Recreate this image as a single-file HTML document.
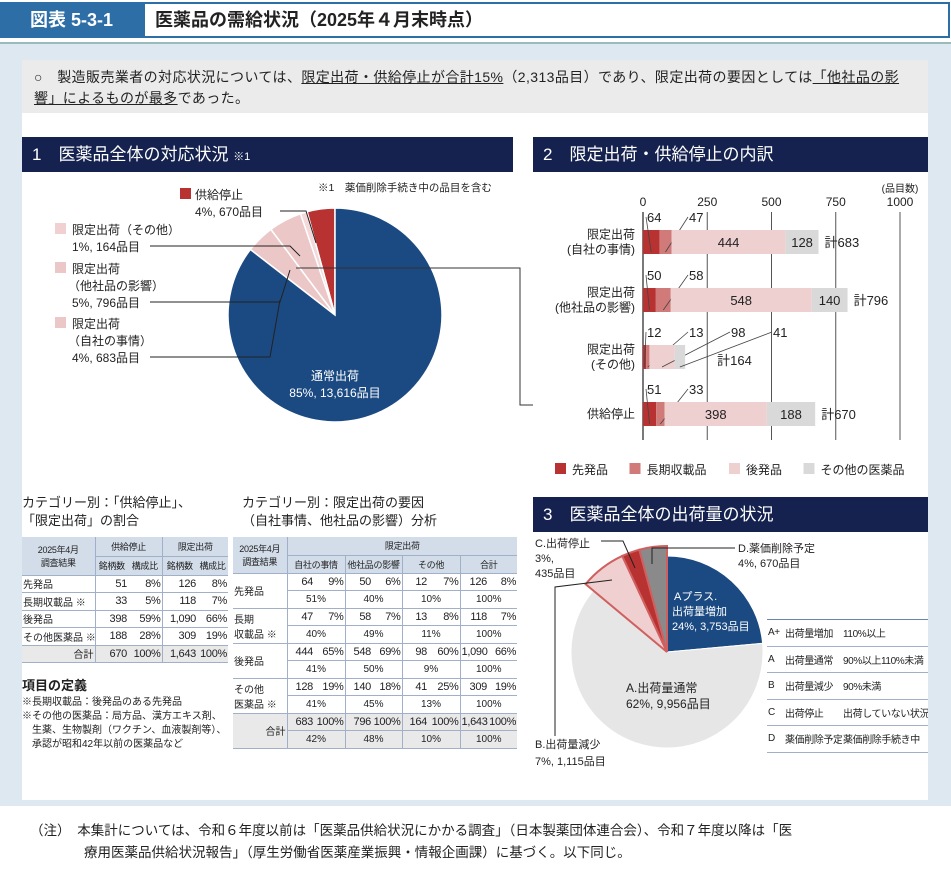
<!DOCTYPE html>
<html><head><meta charset="utf-8">
<style>
*{margin:0;padding:0;box-sizing:border-box}
body{width:951px;height:878px;position:relative;background:#fff;font-family:"Liberation Sans","Noto Sans CJK JP",sans-serif;color:#222;overflow:hidden}
.abs{position:absolute}
.hdr{background:#15224f;color:#fff;font-size:17px;line-height:35px;padding-left:10px}
table{border-collapse:collapse;position:absolute;font-size:10px;table-layout:fixed}
td{border-bottom:1px solid #9fb0c8;padding:0 1px;white-space:nowrap;overflow:hidden}
td.n{text-align:right;font-size:11px;letter-spacing:-0.3px}
td.c{text-align:center}
.h td{background:#d3dde9;text-align:center;font-size:9px;letter-spacing:-0.3px}
.tot td{background:#e9e9e9}
.vl{border-left:1px solid #9fb0c8}
</style></head><body>
<div class="abs" style="left:0;top:2px;width:143px;height:36px;background:#2e6ea6;color:#fff;font-size:18px;font-weight:bold;line-height:36px;text-align:center">図表 5-3-1</div>
<div class="abs" style="left:143px;top:2px;width:807px;height:36px;border:2px solid #2e6ea6;font-size:18px;font-weight:bold;line-height:32px;padding-left:10px">医薬品の需給状況（2025年４月末時点）</div>
<div class="abs" style="left:0;top:42px;width:951px;height:764px;background:#dde8f0;border-top:2px solid #9bb"></div>
<div class="abs" style="left:22px;top:60px;width:906px;height:740px;background:#fff"></div>
<div class="abs" style="left:22px;top:60px;width:906px;height:53px;background:#ebebeb;font-size:14px;letter-spacing:0.4px;line-height:21px;padding:7px 12px">○　製造販売業者の対応状況については、<u>限定出荷・供給停止が合計15%</u>（2,313品目）であり、限定出荷の要因としては<u>「他社品の影響」によるものが最多</u>であった。</div>
<div class="abs hdr" style="left:22px;top:137px;width:491px;height:35px">1　医薬品全体の対応状況 <span style="font-size:11px">※1</span></div>
<div class="abs hdr" style="left:533px;top:137px;width:395px;height:35px">2　限定出荷・供給停止の内訳</div>
<div class="abs hdr" style="left:533px;top:497px;width:395px;height:35px">3　医薬品全体の出荷量の状況</div>

<svg class="abs" style="left:0;top:0" width="951" height="878" id="svg" font-family="Liberation Sans, Noto Sans CJK JP, sans-serif"></svg>

<div class="abs" style="left:22px;top:494px;font-size:13px;line-height:18px">カテゴリー別：「供給停止」、<br>「限定出荷」の割合</div>
<div class="abs" style="left:242px;top:494px;font-size:13px;line-height:18px">カテゴリー別：限定出荷の要因<br>（自社事情、他社品の影響）分析</div>

<table style="left:22px;top:537px;width:206px">
<colgroup><col style="width:73px"><col style="width:33px"><col style="width:34px"><col style="width:35px"><col style="width:31px"></colgroup>
<tr class="h" style="height:19px"><td rowspan="2">2025年4月<br>調査結果</td><td colspan="2" class="vl">供給停止</td><td colspan="2" class="vl">限定出荷</td></tr>
<tr class="h" style="height:19px"><td class="vl">銘柄数</td><td>構成比</td><td class="vl">銘柄数</td><td>構成比</td></tr>
<tr style="height:17.5px"><td>先発品</td><td class="n vl">51</td><td class="n">8%</td><td class="n vl">126</td><td class="n">8%</td></tr>
<tr style="height:17.5px"><td>長期収載品 ※</td><td class="n vl">33</td><td class="n">5%</td><td class="n vl">118</td><td class="n">7%</td></tr>
<tr style="height:17.5px"><td>後発品</td><td class="n vl">398</td><td class="n">59%</td><td class="n vl">1,090</td><td class="n">66%</td></tr>
<tr style="height:17.5px"><td>その他医薬品 ※</td><td class="n vl">188</td><td class="n">28%</td><td class="n vl">309</td><td class="n">19%</td></tr>
<tr class="tot" style="height:17.5px"><td style="text-align:right">合計</td><td class="n vl">670</td><td class="n">100%</td><td class="n vl">1,643</td><td class="n">100%</td></tr>
</table>

<div class="abs" style="left:22px;top:676px;font-size:10px;line-height:14px"><div style="font-size:13px;font-weight:bold;line-height:20px">項目の定義</div>※長期収載品：後発品のある先発品<br>※その他の医薬品：局方品、漢方エキス剤、<br>　生薬、生物製剤（ワクチン、血液製剤等）、<br>　承認が昭和42年以前の医薬品など</div>

<table style="left:233px;top:537px;width:284px">
<colgroup><col style="width:54px"><col style="width:27px"><col style="width:31px"><col style="width:27px"><col style="width:30px"><col style="width:26px"><col style="width:32px"><col style="width:28px"><col style="width:29px"></colgroup>
<tr class="h" style="height:18px"><td rowspan="2">2025年4月<br>調査結果</td><td colspan="8" class="vl">限定出荷</td></tr>
<tr class="h" style="height:18px"><td colspan="2" class="vl">自社の事情</td><td colspan="2" class="vl">他社品の影響</td><td colspan="2" class="vl">その他</td><td colspan="2" class="vl">合計</td></tr>
<tr style="height:17.5px"><td rowspan="2">先発品</td><td class="n vl">64</td><td class="n">9%</td><td class="n vl">50</td><td class="n">6%</td><td class="n vl">12</td><td class="n">7%</td><td class="n vl">126</td><td class="n">8%</td></tr>
<tr style="height:17.5px"><td colspan="2" class="c vl">51%</td><td colspan="2" class="c vl">40%</td><td colspan="2" class="c vl">10%</td><td colspan="2" class="c vl">100%</td></tr>
<tr style="height:17.5px"><td rowspan="2">長期<br>収載品 ※</td><td class="n vl">47</td><td class="n">7%</td><td class="n vl">58</td><td class="n">7%</td><td class="n vl">13</td><td class="n">8%</td><td class="n vl">118</td><td class="n">7%</td></tr>
<tr style="height:17.5px"><td colspan="2" class="c vl">40%</td><td colspan="2" class="c vl">49%</td><td colspan="2" class="c vl">11%</td><td colspan="2" class="c vl">100%</td></tr>
<tr style="height:17.5px"><td rowspan="2">後発品</td><td class="n vl">444</td><td class="n">65%</td><td class="n vl">548</td><td class="n">69%</td><td class="n vl">98</td><td class="n">60%</td><td class="n vl">1,090</td><td class="n">66%</td></tr>
<tr style="height:17.5px"><td colspan="2" class="c vl">41%</td><td colspan="2" class="c vl">50%</td><td colspan="2" class="c vl">9%</td><td colspan="2" class="c vl">100%</td></tr>
<tr style="height:17.5px"><td rowspan="2">その他<br>医薬品 ※</td><td class="n vl">128</td><td class="n">19%</td><td class="n vl">140</td><td class="n">18%</td><td class="n vl">41</td><td class="n">25%</td><td class="n vl">309</td><td class="n">19%</td></tr>
<tr style="height:17.5px"><td colspan="2" class="c vl">41%</td><td colspan="2" class="c vl">45%</td><td colspan="2" class="c vl">13%</td><td colspan="2" class="c vl">100%</td></tr>
<tr class="tot" style="height:17.5px"><td rowspan="2" style="text-align:right">合計</td><td class="n vl">683</td><td class="n">100%</td><td class="n vl">796</td><td class="n">100%</td><td class="n vl">164</td><td class="n">100%</td><td class="n vl">1,643</td><td class="n">100%</td></tr>
<tr class="tot" style="height:17.5px"><td colspan="2" class="c vl">42%</td><td colspan="2" class="c vl">48%</td><td colspan="2" class="c vl">10%</td><td colspan="2" class="c vl">100%</td></tr>
</table>

<table style="left:767px;top:619px;width:161px;font-size:10px;letter-spacing:-0.4px">
<colgroup><col style="width:17px"><col style="width:58px"><col style="width:86px"></colgroup>
<tr style="height:26.5px;border-top:1px solid #6b86aa"><td>A+</td><td>出荷量増加</td><td>110%以上</td></tr>
<tr style="height:26.5px"><td>A</td><td>出荷量通常</td><td>90%以上110%未満</td></tr>
<tr style="height:26.5px"><td>B</td><td>出荷量減少</td><td>90%未満</td></tr>
<tr style="height:26.5px"><td>C</td><td>出荷停止</td><td>出荷していない状況</td></tr>
<tr style="height:26.5px"><td>D</td><td>薬価削除予定</td><td>薬価削除手続き中</td></tr>
</table>

<div class="abs" style="left:30px;top:820px;width:900px;font-size:13.5px;line-height:22px">（注）　本集計については、令和６年度以前は「医薬品供給状況にかかる調査」（日本製薬団体連合会）、令和７年度以降は「医<br>　　　　療用医薬品供給状況報告」（厚生労働省医薬産業振興・情報企画課）に基づく。以下同じ。</div>

<script>
// ---- Chart 1 data ----
const pie1Labels = ['供給停止','限定出荷（その他）','限定出荷（他社品の影響）','限定出荷（自社の事情）','通常出荷'];
const pie1Values = [670, 164, 796, 683, 13616];
// ---- Chart 2 data ----
const barCategories = ['限定出荷\n(自社の事情)','限定出荷\n(他社品の影響)','限定出荷\n(その他)','供給停止'];
const seriesNames = ['先発品','長期収載品','後発品','その他の医薬品'];
const seriesBrand = [64, 50, 12, 51];
const seriesLong = [47, 58, 13, 33];
const seriesGeneric = [444, 548, 98, 398];
const seriesOther = [128, 140, 41, 188];
const xTicks = [0, 250, 500, 750, 1000];
// ---- Chart 3 data ----
const pie3Labels = ['Aプラス','A.出荷量通常','B.出荷量減少','C.出荷停止','D.薬価削除予定'];
const pie3Values = [3753, 9956, 1115, 435, 670];

const NS='http://www.w3.org/2000/svg';
const svg=document.getElementById('svg');
function mk(tag,attrs,parent){const e=document.createElementNS(NS,tag);for(const k in attrs)e.setAttribute(k,attrs[k]);(parent||svg).appendChild(e);return e;}
function txt(x,y,s,size,anchor,fill,name){const t=mk('text',{x:x,y:y,'font-size':size||12,'text-anchor':anchor||'start',fill:fill||'#222'});t.textContent=s;


return t;}
function arc(cx,cy,r,a0,a1){
 const p=a=>[cx+r*Math.sin(a*Math.PI/180),cy-r*Math.cos(a*Math.PI/180)];
 const s=p(a0),e=p(a1);const large=Math.abs(a1-a0)>180?1:0;const sweep=a1>a0?1:0;
 return `M${cx},${cy}L${s[0]},${s[1]}A${r},${r} 0 ${large} ${sweep} ${e[0]},${e[1]}Z`;}

// Chart 1 pie
{const cx=335,cy=315,r=107;const tot=pie1Values.reduce((a,b)=>a+b,0);
 const cols=['#b83232','#f3d9d9','#ecc7c7','#ecc7c7','#1b4a82'];
 let a=0;pie1Values.forEach((v,i)=>{const a1=a-v/tot*360;
  const p=mk('path',{d:arc(cx,cy,r,a,a1),fill:cols[i],stroke:'#fff','stroke-width':1.5});
  
  
  a=a1;});
 txt(cx,380,'通常出荷',12,'middle','#fff','pie1-main-label');
 txt(cx,397,'85%, 13,616品目',12,'middle','#fff','pie1-main-value');
 const l=mk('polyline',{points:'296,268 520,268 520,405 533,405',fill:'none',stroke:'#333','stroke-width':1});
 
 
 txt(318,191,'※1　薬価削除手続き中の品目を含む',10.5,'start','#222','pie1-note');
 const items=[[195,199,'供給停止','4%, 670品目','#b83232',180,316,243],
  [72,234,'限定出荷（その他）','1%, 164品目','#f0d0d0',55,300,256],
  [72,273,'限定出荷','5%, 796品目','#ecc7c7',55,290,270],
  [72,328,'限定出荷','4%, 683品目','#ecc7c7',55,280,300]];
 const subs=[null,null,'（他社品の影響）','（自社の事情）'];
 items.forEach((it,i)=>{const sq=mk('rect',{x:it[5],y:it[1]-11,width:11,height:11,fill:it[4]});
  
  
  txt(it[0],it[1],it[2],12,'start','#222','pie1-label');
  let y2=it[1]+17; if(subs[i]){txt(it[0]-4,y2,subs[i],12,'start','#222','pie1-label');y2+=17;}
  txt(it[0],y2,it[3],12,'start','#222','pie1-value');
  const ln=mk('polyline',{points:`${it[0]+(i==0?85:78)},${y2-5} ${it[6]-10},${y2-5} ${it[6]},${it[7]}`,fill:'none',stroke:'#222','stroke-width':1});
  
  });
}

// Chart 2 bars
{const x0=643,scale=257/1000;const X=v=>x0+v*scale;
 const rows=[242,300,357,414];const bh=24;
 txt(900,192,'(品目数)',10,'middle','#222','x-axis-unit');
 xTicks.forEach(t=>{txt(X(t),206,String(t),12,'middle','#222','x-tick-label');
  if(t>0){const g=mk('line',{x1:X(t),x2:X(t),y1:212,y2:440,stroke:'#555','stroke-width':1});
  
  }});
 const ax=mk('line',{x1:x0,x2:x0,y1:212,y2:440,stroke:'#222','stroke-width':1.2});
 
 
 const cols=['#b83232','#d07a7a','#efd0d0','#d9d9d9'];
 const series=[seriesBrand,seriesLong,seriesGeneric,seriesOther];
 barCategories.forEach((c,i)=>{const cy=rows[i];const lines=c.split('\n');
  lines.forEach((s,j)=>txt(635,cy+4+(j-(lines.length-1)/2)*15,s,12,'end','#222','category-label'));
  let acc=0,k=0;
  series.forEach((ser,si)=>{const v=ser[i];const xa=X(acc),w=v*scale;
   const r=mk('rect',{x:xa,y:cy-bh/2,width:w,height:bh,fill:cols[si]});
   
   
   if(w>30){txt(xa+w/2,cy+5,String(v),13,'middle','#222','bar-value');}
   else{const lx=x0+4+k*42,ly=cy-bh/2-8;
    txt(lx,ly,String(v),13,'start','#222','bar-value');
    const ln=mk('line',{x1:xa+w/2,y1:cy+bh/2-2,x2:lx-1,y2:ly-5,stroke:'#444','stroke-width':0.8});
    
    k++;}
   acc+=v;});
  if(i==2) txt(X(acc)+32,cy+8,'計'+acc,13,'start','#222','bar-total');
  else txt(X(acc)+6,cy+5,'計'+acc,13,'start','#222','bar-total');
 });
 let lx=555;seriesNames.forEach((n,i)=>{const sq=mk('rect',{x:lx,y:463,width:11,height:11,fill:cols[i]});
  
  
  txt(lx+17,474,n,12,'start','#222','legend-entry');lx+=17+n.length*12.5+20;});
}

// Chart 3 pie
{const cx=667,cy=652,r=96;const tot=pie3Values.reduce((a,b)=>a+b,0);
 const cols=['#1b4a82','#e6e6e6','#efcfcf','#b83232','#8a8a8a'];
 let a=0;pie3Values.forEach((v,i)=>{const a1=a+v/tot*360;const rr=i>=2?106:r;
  const p=mk('path',{d:arc(cx,cy,rr,a,a1),fill:cols[i],stroke:i>=2?'#d06060':'#fff','stroke-width':i>=2?2:1});
  
  
  a=a1;});
 txt(674,600,'Aプラス.',11,'start','#fff','pie3-label');
 txt(672,615,'出荷量増加',11,'start','#fff','pie3-label');
 txt(672,630,'24%, 3,753品目',11,'start','#fff','pie3-label');
 txt(626,692,'A.出荷量通常',12,'start','#222','pie3-label');
 txt(626,708,'62%, 9,956品目',12,'start','#222','pie3-label');
 txt(535,748,'B.出荷量減少',11,'start','#222','pie3-label');
 txt(535,765,'7%, 1,115品目',11,'start','#222','pie3-label');
 txt(535,547,'C.出荷停止',11,'start','#222','pie3-label');
 txt(535,562,'3%,',11,'start','#222','pie3-label');
 txt(535,577,'435品目',11,'start','#222','pie3-label');
 txt(738,552,'D.薬価削除予定',11,'start','#222','pie3-label');
 txt(738,567,'4%, 670品目',11,'start','#222','pie3-label');
 [['555,736 555,587 612,580'],['601,541 623,541 635,568'],['735,548 652,548 652,564']].forEach(p=>{
  const l=mk('polyline',{points:p[0],fill:'none',stroke:'#222','stroke-width':1});
  
  });
}
</script>
</body></html>
